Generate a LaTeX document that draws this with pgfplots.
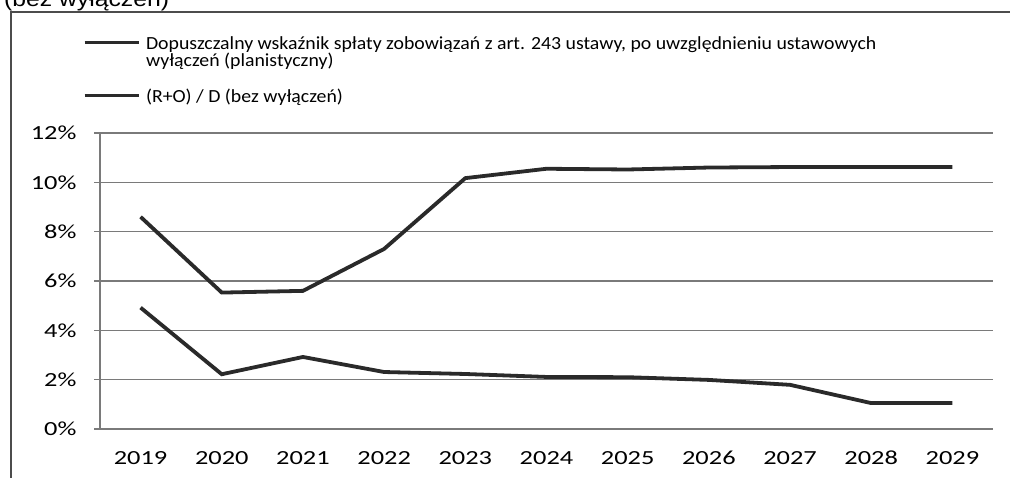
\documentclass[border=0pt]{standalone}
\usepackage{pgfplots}
\pgfplotsset{compat=1.18}
\usepackage{fontspec}
\setmainfont{Carlito}
\newfontfamily\tickfont{Carlito}[FakeStretch=1.32]
\newfontfamily\legfont{Carlito}[FakeStretch=1.07]
\newfontfamily\titlefont{Liberation Sans}[FakeStretch=1.15]
\definecolor{lineC}{HTML}{2A2A2A}
\definecolor{gridC}{HTML}{7A7A7A}
\begin{document}
\begin{tikzpicture}[x=1pt,y=1pt]
\useasboundingbox (0,0) rectangle (1010,478);
\draw[color=black!70, line width=1.8pt] (11,0) -- (11,466) -- (1010,466);
\node[anchor=base west, font=\titlefont\fontsize{21.5}{24}\selectfont, inner sep=0pt] at (4,471) {(bez wyłączeń)};
\begin{axis}[
  at={(100pt,49pt)}, anchor=south west,
  scale only axis, width=893pt, height=296pt,
  xmin=-0.5, xmax=10.5, ymin=0, ymax=12,
  axis lines*=left,
  axis line style={gridC, line width=1.3pt},
  ytick={0,2,...,12}, yticklabels={0\%,2\%,4\%,6\%,8\%,10\%,12\%},
  ymajorgrids, grid style={gridC, line width=1.3pt},
  y tick style={gridC, line width=1.3pt},
  ytick align=outside, major tick length=6pt,
  yticklabel style={xshift=-14pt},
  xtick={0,...,10}, xticklabels={2019,2020,2021,2022,2023,2024,2025,2026,2027,2028,2029},
  x tick style={draw=none},
  xticklabel style={anchor=base, yshift=-36pt},
  extra x ticks={-0.5,0.5,1.5,2.5,3.5,4.5,5.5,6.5,7.5,8.5,9.5,10.5},
  extra x tick labels={},
  extra x tick style={grid=none, tick align=outside, major tick length=6pt, tick style={draw=gridC, line width=1.3pt}},
  tick label style={font=\tickfont\fontsize{20}{22}\selectfont},
  legend style={at={(-0.019,1.3307)}, anchor=north west, draw=none, fill=none, inner sep=0pt, outer sep=0pt, row sep=0pt, column sep=6pt,
    nodes={anchor=base west, inner sep=0pt, font=\legfont\fontsize{18.5}{15.5}\selectfont}},
  legend image code/.code={\draw[#1, line width=3pt, yshift=7pt] (0pt,0pt) -- (54pt,0pt);},
]
\addplot[lineC, line width=3.8pt] coordinates {(0,8.6)(1,5.53)(2,5.6)(3,7.3)(4,10.17)(5,10.55)(6,10.52)(7,10.6)(8,10.62)(9,10.62)(10,10.62)};
\addlegendentry[text height=13.9pt, text depth=3.1pt]{Dopuszczalny wskaźnik spłaty zobowiązań z art. 243 ustawy, po uwzględnieniu ustawowych}
\addlegendimage{empty legend}
\addlegendentry[text height=13.9pt, text depth=22.1pt]{wyłączeń (planistyczny)}
\addplot[lineC, line width=3.8pt] coordinates {(0,4.92)(1,2.22)(2,2.92)(3,2.31)(4,2.23)(5,2.11)(6,2.1)(7,1.99)(8,1.79)(9,1.05)(10,1.05)};
\addlegendentry[text height=13.9pt, text depth=4pt]{(R+O) / D (bez wyłączeń)}
\end{axis}
\end{tikzpicture}
\end{document}
